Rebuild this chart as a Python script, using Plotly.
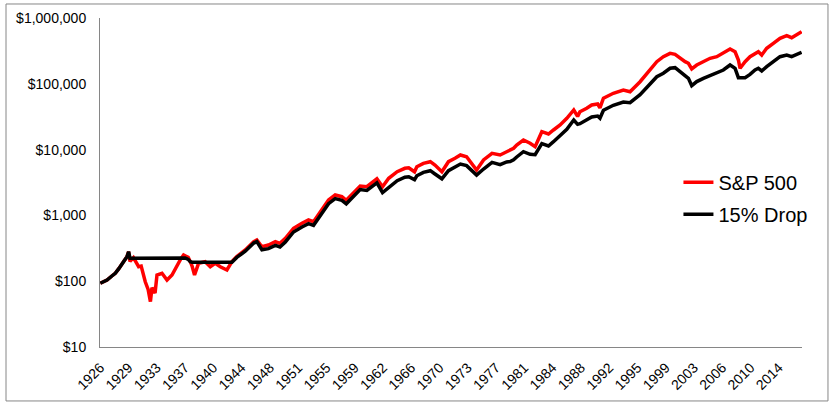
import plotly.graph_objects as go

# ---- data (decimal years, growth of $ invested) ----
years = [
    1926.0, 1926.87, 1927.5, 1927.94, 1928.4, 1928.81, 1929.1, 1929.46, 1929.67, 1929.85,
    1930.3, 1930.97, 1931.3, 1931.83, 1932.2, 1932.5, 1932.7, 1933.1, 1933.35, 1934.0,
    1934.65, 1935.3, 1935.94, 1936.4, 1936.8, 1937.0, 1937.4, 1937.67, 1937.9, 1938.22,
    1938.74, 1939.6, 1940.26, 1940.9, 1941.56, 1942.42, 1943.07, 1943.7, 1944.6, 1944.8,
    1945.9, 1946.3, 1946.96, 1947.8, 1948.7, 1949.3, 1950.0, 1951.06, 1952.15, 1953.0,
    1953.65, 1954.74, 1955.6, 1956.46, 1957.33, 1957.9, 1959.06, 1959.7, 1960.57, 1961.2,
    1961.87, 1962.6, 1963.4, 1964.5, 1965.5, 1966.0, 1966.75, 1967.05, 1967.9, 1968.8,
    1969.4, 1970.3, 1971.15, 1972.0, 1972.7, 1973.5, 1974.4, 1974.8, 1975.7, 1976.8,
    1977.85, 1978.7, 1979.15, 1979.6, 1980.0, 1980.87, 1981.74, 1982.39, 1983.26, 1984.12,
    1984.77, 1985.63, 1986.5, 1987.4, 1987.9, 1988.2, 1989.08, 1989.73, 1990.5, 1990.8,
    1991.25, 1992.53, 1993.83, 1994.7, 1996.0, 1997.3, 1998.17, 1999.02, 1999.89, 2000.54,
    2001.19, 2001.84, 2002.27, 2002.7, 2003.35, 2004.21, 2005.08, 2005.95, 2006.8, 2007.67,
    2008.32, 2008.75, 2008.97, 2009.62, 2010.26, 2010.91, 2011.34, 2011.78, 2012.42, 2013.28,
    2014.15, 2015.02, 2015.66, 2016.95,
]

sp500 = [
    93, 104, 120, 132, 155, 187, 205, 236, 281, 200,
    228, 166, 170, 98, 75, 49, 80, 66, 124, 132,
    104, 124, 176, 215, 250, 245, 230, 198, 170, 124,
    187, 198, 166, 187, 166, 148, 198, 236, 281, 298,
    400, 423, 334, 355, 398, 376, 449, 637, 759, 851,
    802, 1208, 1714, 2042, 1923, 1700, 2291, 2800, 2729, 3150,
    3600, 2729, 3660, 4610, 5200, 5300, 4600, 5500, 6170, 6550,
    5830, 4610, 6550, 7380, 8280, 7800, 5830, 4900, 6950, 8790,
    8280, 9300, 9860, 10470, 11750, 14000, 12470, 11070, 18700, 17260,
    19860, 23650, 29900, 40000, 32000, 37700, 42450, 47640, 49300, 43000,
    60250, 71780, 80500, 75850, 107600, 165000, 217000, 258000, 290000, 281000,
    244000, 217000, 205000, 168000, 193000, 217000, 244000, 258000, 290000, 338000,
    307000, 230000, 172000, 217000, 258000, 290000, 307000, 274000, 346000, 413000,
    491000, 538000, 502000, 619000,
]

drop15 = [
    93, 104, 120, 132, 155, 187, 205, 236, 281, 223,
    223, 223, 223, 223, 223, 223, 223, 223, 223, 223,
    223, 223, 223, 223, 228, 226, 215, 198, 194, 194,
    194, 194, 194, 194, 194, 194, 194, 230, 270, 285,
    380, 400, 300, 312, 350, 331, 395, 560, 668, 749,
    706, 1063, 1508, 1797, 1692, 1500, 2016, 2464, 2400, 2770,
    3115, 2213, 2670, 3365, 3800, 3870, 3500, 4000, 4500, 4780,
    4260, 3600, 4780, 5390, 6040, 5700, 4600, 4100, 5070, 6400,
    5900, 6500, 6600, 7000, 7720, 9300, 8480, 8370, 12290, 11340,
    13190, 16080, 20330, 28200, 24200, 24770, 27890, 31300, 32400, 30000,
    39600, 47160, 52900, 51600, 68200, 97000, 128000, 145000, 172000, 176000,
    153000, 128000, 121000, 93600, 108000, 121000, 133000, 145000, 162000, 193000,
    172000, 124000, 124000, 124000, 139000, 162000, 172000, 157000, 182000, 217000,
    258000, 274000, 258000, 301000,
]

series_names = ["S&P 500", "15% Drop"]

tick_labels = ["1926", "1929", "1933", "1937", "1940", "1944", "1948", "1951", "1955",
               "1959", "1962", "1966", "1970", "1973", "1977", "1981", "1984", "1988",
               "1992", "1995", "1999", "2003", "2006", "2010", "2014"]
tick_dates = [1926.0, 1929.667, 1933.333, 1937.0, 1940.667, 1944.333, 1948.0, 1951.667,
              1955.333, 1959.0, 1962.667, 1966.333, 1970.0, 1973.667, 1977.333, 1981.0,
              1984.667, 1988.333, 1992.0, 1995.667, 1999.333, 2003.0, 2006.667, 2010.333,
              2014.0]

y_tick_vals = [10, 100, 1000, 10000, 100000, 1000000]
y_tick_text = ["$10", "$100", "$1,000", "$10,000", "$100,000", "$1,000,000"]

# ---- figure ----
FONT = "Arial, 'Liberation Sans', sans-serif"
GRAY = "#868686"

fig = go.Figure()
fig.add_trace(go.Scatter(x=years, y=sp500, mode="lines", name=series_names[0],
                         legendgroup="a",
                         line=dict(color="#FF0000", width=3.5)))
fig.add_trace(go.Scatter(x=years, y=drop15, mode="lines", name=series_names[1],
                         legendgroup="b",
                         line=dict(color="#000000", width=3.5)))

fig.update_layout(
    width=835, height=408,
    margin=dict(l=100, r=33, t=18, b=61, autoexpand=False),
    paper_bgcolor="white", plot_bgcolor="white",
    font=dict(family=FONT, size=14, color="#000000"),
    showlegend=True,
    legend=dict(x=0.824, y=0.56, xanchor="left", yanchor="top",
                traceorder="grouped", tracegroupgap=3,
                font=dict(family=FONT, size=20, color="#000000"),
                bgcolor="rgba(0,0,0,0)", borderwidth=0),
    shapes=[dict(type="rect", xref="paper", yref="paper",
                 x0=-0.1339, x1=1.037, y0=-0.164, y1=1.0426,
                 line=dict(color=GRAY, width=1), layer="below")],
)

fig.update_xaxes(
    type="linear", range=[1925.96, 2017.0], automargin=False,
    tickmode="array", tickvals=tick_dates, ticktext=tick_labels,
    tickangle=-45, ticks="", showgrid=False, zeroline=False,
    showline=True, linecolor=GRAY, linewidth=1,
    ticklabelstandoff=6,
    tickfont=dict(family=FONT, size=14, color="#000000"),
)
fig.update_yaxes(
    type="log", range=[1, 6], automargin=False,
    tickmode="array", tickvals=y_tick_vals, ticktext=y_tick_text,
    ticks="", showgrid=False, zeroline=False,
    showline=True, linecolor=GRAY, linewidth=1,
    ticklabelstandoff=10,
    tickfont=dict(family=FONT, size=14, color="#000000"),
)

fig.write_html("out.html",
               config={"displayModeBar": False},
               post_script="document.body.style.margin='0';document.body.style.overflow='hidden';")
